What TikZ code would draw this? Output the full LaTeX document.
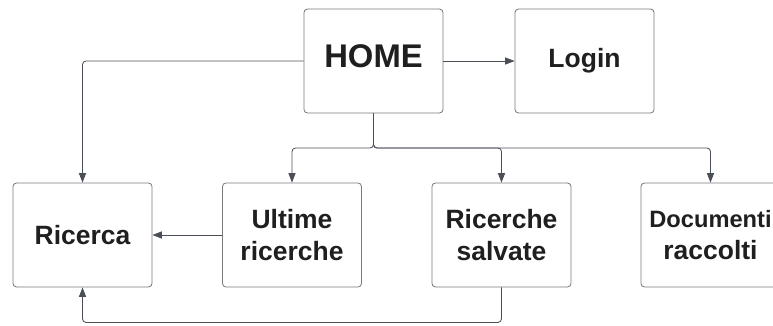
\documentclass[tikz,border=0pt]{standalone}
\usepackage{fontspec}
\setmainfont{Liberation Sans}
\usepackage{xcolor}
\usetikzlibrary{arrows.meta, positioning}
\definecolor{boxline}{HTML}{7A7A7A}
\definecolor{wire}{HTML}{4A4E57}

\begin{document}
\begin{tikzpicture}[
  x=0.03cm, y=-0.03cm,
  page/.style={draw=boxline, line width=0.7pt, rounded corners=3pt, minimum width=4.17cm,
               minimum height=3.12cm, align=center, text=black!88,
               font=\fontsize{22.6}{27}\selectfont\bfseries, inner sep=0pt},
  arr/.style={-{Triangle[length=8pt, width=6pt]}, line width=0.7pt, draw=wire,
              rounded corners=3pt},
]
\useasboundingbox (0,0) rectangle (773,325);
\node[page, font=\fontsize{28}{32}\selectfont\bfseries, text depth=0.3cm] (home) at (373.5, 61) {HOME};
\node[page] (login)   at (584.5, 61)  {Login};
\node[page] (ricerca) at (82.5, 235)  {Ricerca};
\node[page] (ultime)  at (292, 235)   {Ultime\\ricerche};
\node[page] (salvate) at (501.5, 235) {Ricerche\\salvate};
\node[page] (docs)    at (710.5, 235) {{\fontsize{20.2}{27}\selectfont Documenti}\\raccolti};
\coordinate (bus) at (373.5, 148);
\draw[arr] (home) -- (login);
\draw[arr] (home.west) -| (ricerca.north);
\draw[arr] (home.south) -- (bus) -| (ultime.north);
\draw[arr] (home.south) -- (bus) -| (salvate.north);
\draw[arr] (home.south) -- (bus) -| (docs.north);
\draw[arr] (ultime) -- (ricerca);
\draw[arr] (salvate.south) -- ++(0, 35) -| (ricerca.south);
\end{tikzpicture}
\end{document}
